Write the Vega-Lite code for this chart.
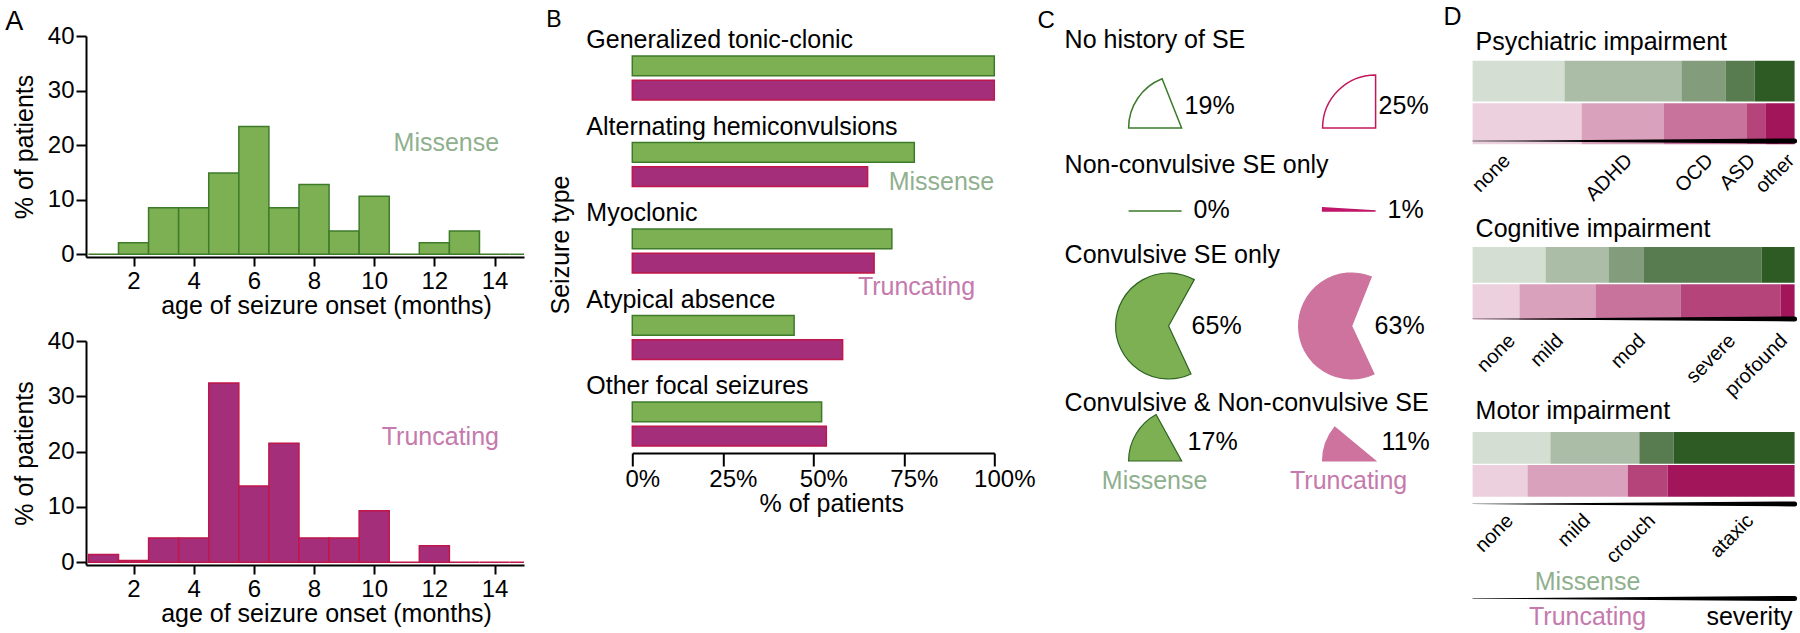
{
  "$schema": "https://vega.github.io/schema/vega-lite/v6.json",
  "padding": {"left": 5, "top": 5, "right": 0, "bottom": 0},
  "datasets": {
    "histM": [
      {"lo": 0.5, "hi": 1.5, "pct": 0},
      {"lo": 1.5, "hi": 2.5, "pct": 2.13},
      {"lo": 2.5, "hi": 3.5, "pct": 8.51},
      {"lo": 3.5, "hi": 4.5, "pct": 8.51},
      {"lo": 4.5, "hi": 5.5, "pct": 14.89},
      {"lo": 5.5, "hi": 6.5, "pct": 23.4},
      {"lo": 6.5, "hi": 7.5, "pct": 8.51},
      {"lo": 7.5, "hi": 8.5, "pct": 12.77},
      {"lo": 8.5, "hi": 9.5, "pct": 4.26},
      {"lo": 9.5, "hi": 10.5, "pct": 10.64},
      {"lo": 10.5, "hi": 11.5, "pct": 0},
      {"lo": 11.5, "hi": 12.5, "pct": 2.13},
      {"lo": 12.5, "hi": 13.5, "pct": 4.26},
      {"lo": 13.5, "hi": 14.5, "pct": 0},
      {"lo": 14.5, "hi": 15.5, "pct": 0}
    ],
    "histT": [
      {"lo": 0.5, "hi": 1.5, "pct": 1.4},
      {"lo": 1.5, "hi": 2.5, "pct": 0.3},
      {"lo": 2.5, "hi": 3.5, "pct": 4.4},
      {"lo": 3.5, "hi": 4.5, "pct": 4.4},
      {"lo": 4.5, "hi": 5.5, "pct": 32.4},
      {"lo": 5.5, "hi": 6.5, "pct": 13.8},
      {"lo": 6.5, "hi": 7.5, "pct": 21.5},
      {"lo": 7.5, "hi": 8.5, "pct": 4.4},
      {"lo": 8.5, "hi": 9.5, "pct": 4.4},
      {"lo": 9.5, "hi": 10.5, "pct": 9.3},
      {"lo": 10.5, "hi": 11.5, "pct": 0},
      {"lo": 11.5, "hi": 12.5, "pct": 3.0},
      {"lo": 12.5, "hi": 13.5, "pct": 0},
      {"lo": 13.5, "hi": 14.5, "pct": 0},
      {"lo": 14.5, "hi": 15.5, "pct": 0}
    ],
    "seizure": [
      {"type": "Generalized tonic-clonic", "genotype": "Missense", "pct": 100},
      {"type": "Generalized tonic-clonic", "genotype": "Truncating", "pct": 100},
      {"type": "Alternating hemiconvulsions", "genotype": "Missense", "pct": 77.9},
      {"type": "Alternating hemiconvulsions", "genotype": "Truncating", "pct": 65.0},
      {"type": "Myoclonic", "genotype": "Missense", "pct": 71.7},
      {"type": "Myoclonic", "genotype": "Truncating", "pct": 66.8},
      {"type": "Atypical absence", "genotype": "Missense", "pct": 44.7},
      {"type": "Atypical absence", "genotype": "Truncating", "pct": 58.1},
      {"type": "Other focal seizures", "genotype": "Missense", "pct": 52.3},
      {"type": "Other focal seizures", "genotype": "Truncating", "pct": 53.6}
    ],
    "se": [
      {"row": "No history of SE", "genotype": "Missense", "pct": 0.19},
      {"row": "No history of SE", "genotype": "Truncating", "pct": 0.25},
      {"row": "Non-convulsive SE only", "genotype": "Missense", "pct": 0},
      {"row": "Non-convulsive SE only", "genotype": "Truncating", "pct": 0.01},
      {"row": "Convulsive SE only", "genotype": "Missense", "pct": 0.65},
      {"row": "Convulsive SE only", "genotype": "Truncating", "pct": 0.63},
      {"row": "Convulsive & Non-convulsive SE", "genotype": "Missense", "pct": 0.17},
      {"row": "Convulsive & Non-convulsive SE", "genotype": "Truncating", "pct": 0.11}
    ],
    "psych": [
      {"genotype": "Missense", "level": "none", "sev": 1, "pct": 28.6},
      {"genotype": "Missense", "level": "ADHD", "sev": 2, "pct": 36.3},
      {"genotype": "Missense", "level": "OCD", "sev": 3, "pct": 13.7},
      {"genotype": "Missense", "level": "ASD", "sev": 4, "pct": 9.0},
      {"genotype": "Missense", "level": "other", "sev": 5, "pct": 12.4},
      {"genotype": "Truncating", "level": "none", "sev": 1, "pct": 33.9},
      {"genotype": "Truncating", "level": "ADHD", "sev": 2, "pct": 25.5},
      {"genotype": "Truncating", "level": "OCD", "sev": 3, "pct": 25.8},
      {"genotype": "Truncating", "level": "ASD", "sev": 4, "pct": 5.9},
      {"genotype": "Truncating", "level": "other", "sev": 5, "pct": 8.9}
    ],
    "cog": [
      {"genotype": "Missense", "level": "none", "sev": 1, "pct": 22.7},
      {"genotype": "Missense", "level": "mild", "sev": 2, "pct": 19.6},
      {"genotype": "Missense", "level": "mod", "sev": 3, "pct": 10.9},
      {"genotype": "Missense", "level": "severe", "sev": 4, "pct": 36.6},
      {"genotype": "Missense", "level": "profound", "sev": 5, "pct": 10.2},
      {"genotype": "Truncating", "level": "none", "sev": 1, "pct": 14.6},
      {"genotype": "Truncating", "level": "mild", "sev": 2, "pct": 23.6},
      {"genotype": "Truncating", "level": "mod", "sev": 3, "pct": 26.4},
      {"genotype": "Truncating", "level": "severe", "sev": 4, "pct": 31.1},
      {"genotype": "Truncating", "level": "profound", "sev": 5, "pct": 4.3}
    ],
    "motor": [
      {"genotype": "Missense", "level": "none", "sev": 1, "pct": 24.2},
      {"genotype": "Missense", "level": "mild", "sev": 2, "pct": 27.6},
      {"genotype": "Missense", "level": "crouch", "sev": 4, "pct": 10.6},
      {"genotype": "Missense", "level": "ataxic", "sev": 5, "pct": 37.6},
      {"genotype": "Truncating", "level": "none", "sev": 1, "pct": 17.1},
      {"genotype": "Truncating", "level": "mild", "sev": 2, "pct": 31.1},
      {"genotype": "Truncating", "level": "crouch", "sev": 4, "pct": 12.4},
      {"genotype": "Truncating", "level": "ataxic", "sev": 5, "pct": 39.4}
    ]
  },
  "resolve": {"scale": {"fill": "independent", "stroke": "independent", "color": "independent", "theta": "independent", "size": "independent", "opacity": "independent"}},
  "columns": 2,
  "align": "none",
  "spacing": 22.3,
  "concat": [
    {
      "vconcat": [
        {
          "width": 438, "height": 221,
          "layer": [
            {
              "data": {"name": "histM"},
              "mark": {"type": "bar", "fill": "#7cb053", "stroke": "#3d7b2b", "strokeWidth": 1.5, "clip": true},
              "encoding": {
                "x": {"field": "lo", "type": "quantitative", "scale": {"domain": [0.42, 14.98], "nice": false, "zero": false},
                      "axis": {"values": [2, 4, 6, 8, 10, 12, 14], "title": "age of seizure onset (months)", "tickSize": 9, "labelPadding": 3, "titlePadding": 0, "titleX": 240}},
                "x2": {"field": "hi"},
                "y": {"field": "pct", "type": "quantitative", "scale": {"domain": [-0.5, 40], "nice": false, "zero": false},
                      "axis": {"values": [0, 10, 20, 30, 40], "title": "% of patients", "tickSize": 10, "labelPadding": 2, "titlePadding": 10}},
                "y2": {"datum": 0}
              }
            },
            {
              "data": {"values": [{"genotype": "Missense"}]},
              "mark": {"type": "text", "fontSize": 25, "color": "#8fb08e", "align": "center", "baseline": "middle"},
              "encoding": {"x": {"datum": 12.4}, "y": {"datum": 20.3}, "text": {"field": "genotype"}}
            },
            {
              "data": {"values": [{"panel": "A"}]},
              "mark": {"type": "text", "fontSize": 27, "align": "left", "baseline": "top", "dx": -80.7, "dy": -27},
              "encoding": {"x": {"datum": 0.42}, "y": {"datum": 40}, "text": {"field": "panel"}}
            }
          ]
        },
        {
          "width": 438, "height": 224,
          "layer": [
            {
              "data": {"name": "histT"},
              "mark": {"type": "bar", "fill": "#a52e7a", "stroke": "#c0174a", "strokeWidth": 1.5, "clip": true},
              "encoding": {
                "x": {"field": "lo", "type": "quantitative", "scale": {"domain": [0.42, 14.98], "nice": false, "zero": false},
                      "axis": {"values": [2, 4, 6, 8, 10, 12, 14], "title": "age of seizure onset (months)", "tickSize": 9, "labelPadding": 3, "titlePadding": 0, "titleX": 240}},
                "x2": {"field": "hi"},
                "y": {"field": "pct", "type": "quantitative", "scale": {"domain": [-0.5, 40], "nice": false, "zero": false},
                      "axis": {"values": [0, 10, 20, 30, 40], "title": "% of patients", "tickSize": 10, "labelPadding": 2, "titlePadding": 10}},
                "y2": {"datum": 0}
              }
            },
            {
              "data": {"values": [{"genotype": "Truncating"}]},
              "mark": {"type": "text", "fontSize": 25, "color": "#c57aad", "align": "center", "baseline": "middle"},
              "encoding": {"x": {"datum": 12.2}, "y": {"datum": 22.7}, "text": {"field": "genotype"}}
            }
          ]
        }
      ],
      "spacing": 84,
      "bounds": "flush"
    },
    {
      "columns": 2,
      "align": "none",
      "spacing": 2.3,
      "resolve": {"scale": {"fill": "independent", "stroke": "independent", "color": "independent", "theta": "independent", "size": "independent", "opacity": "independent"}},
      "concat": [
        {
          "width": 362, "height": 417,
          "layer": [
            {
              "data": {"name": "seizure"},
              "mark": {"type": "bar", "strokeWidth": 1.5},
              "encoding": {
                "y": {"field": "type", "type": "nominal",
                      "scale": {"domain": ["Generalized tonic-clonic", "Alternating hemiconvulsions", "Myoclonic", "Atypical absence", "Other focal seizures"], "paddingInner": 0.491, "paddingOuter": 0.156, "align": 0.741},
                      "axis": {"labels": false, "ticks": false, "domain": false, "title": "Seizure type", "titlePadding": 59}},
                "yOffset": {"field": "genotype", "type": "nominal", "scale": {"domain": ["Missense", "Truncating"], "paddingInner": 0.18, "paddingOuter": 0}},
                "x": {"field": "pct", "type": "quantitative", "scale": {"domain": [0, 100], "nice": false},
                      "axis": {"values": [0, 25, 50, 75, 100], "labelExpr": "datum.value + '%'", "tickSize": 13, "labelPadding": 1, "labelOffset": 10, "title": "% of patients", "titlePadding": 0, "titleX": 199}},
                "fill": {"field": "genotype", "type": "nominal", "scale": {"domain": ["Missense", "Truncating"], "range": ["#7cb053", "#a52e7a"]}, "legend": null},
                "stroke": {"field": "genotype", "type": "nominal", "scale": {"domain": ["Missense", "Truncating"], "range": ["#3d7b2b", "#c0174a"]}, "legend": null}
              }
            },
            {
              "data": {"name": "seizure"},
              "transform": [{"filter": "datum.genotype === 'Missense'"}],
              "mark": {"type": "text", "align": "left", "baseline": "middle", "dx": -46, "dy": -38, "fontSize": 25},
              "encoding": {"y": {"field": "type", "type": "nominal"}, "x": {"datum": 0}, "text": {"field": "type"}}
            },
            {
              "data": {"values": [{"genotype": "Missense"}]},
              "mark": {"type": "text", "align": "center", "baseline": "middle", "dy": 17, "fontSize": 25, "color": "#8fb08e"},
              "encoding": {"x": {"datum": 85.4}, "y": {"datum": "Alternating hemiconvulsions"}, "text": {"field": "genotype"}}
            },
            {
              "data": {"values": [{"genotype": "Truncating"}]},
              "mark": {"type": "text", "align": "center", "baseline": "middle", "dy": 36.4, "fontSize": 25, "color": "#c57aad"},
              "encoding": {"x": {"datum": 78.5}, "y": {"datum": "Myoclonic"}, "text": {"field": "genotype"}}
            },
            {
              "data": {"values": [{"panel": "B"}]},
              "mark": {"type": "text", "fontSize": 23, "align": "left", "baseline": "top", "dx": -86, "dy": -69},
              "encoding": {"x": {"datum": 0}, "y": {"datum": "Generalized tonic-clonic"}, "text": {"field": "panel"}}
            }
          ]
        },
        {
          "columns": 2,
          "align": "none",
          "spacing": 12,
          "resolve": {"scale": {"fill": "independent", "stroke": "independent", "color": "independent", "theta": "independent", "size": "independent", "opacity": "independent"}},
          "concat": [
            {
              "spacing": 0,
              "bounds": "flush",
              "resolve": {"scale": {"x": "independent", "y": "independent", "fill": "independent", "stroke": "independent", "color": "independent", "theta": "independent"}},
              "vconcat": [
                {
                  "width": 367, "height": 132,
                  "layer": [
                    {
                      "data": {"name": "se"},
                      "transform": [{"filter": "datum.row === 'No history of SE'"}],
                      "mark": {"type": "arc", "radius": 53, "strokeWidth": 1.5},
                      "encoding": {
                        "x": {"field": "genotype", "type": "nominal", "scale": {"type": "point", "domain": ["Missense", "Truncating"], "padding": 0.4459, "align": 0.6763}, "axis": null},
                        "y": {"field": "row", "type": "nominal", "scale": {"type": "point", "domain": ["No history of SE"], "align": 0.697}, "axis": null},
                        "theta": {"field": "pct", "type": "quantitative", "stack": null, "scale": {"domain": [0, 1], "range": [4.7124, 10.9956]}},
                        "fill": {"field": "genotype", "type": "nominal", "scale": {"domain": ["Missense", "Truncating"], "range": ["#ffffff", "#ffffff"]}, "legend": null},
                        "stroke": {"field": "genotype", "type": "nominal", "scale": {"domain": ["Missense", "Truncating"], "range": ["#3d7b2b", "#c2185b"]}, "legend": null}
                      }
                    },
                    {
                      "data": {"name": "se"},
                      "transform": [{"filter": "datum.row === 'No history of SE'"}],
                      "mark": {"type": "text", "align": "left", "baseline": "middle", "dx": 3, "dy": -21.6, "fontSize": 25},
                      "encoding": {"x": {"field": "genotype", "type": "nominal"}, "y": {"field": "row", "type": "nominal"}, "text": {"field": "pct", "type": "quantitative", "format": ".0%"}}
                    },
                    {
                      "data": {"name": "se"},
                      "transform": [{"filter": "datum.row === 'No history of SE' && datum.genotype === 'Missense'"}],
                      "mark": {"type": "text", "align": "left", "baseline": "middle", "dx": -117, "dy": -87.9, "fontSize": 25},
                      "encoding": {"x": {"field": "genotype", "type": "nominal"}, "y": {"field": "row", "type": "nominal"}, "text": {"field": "row"}}
                    },
                    {
                      "data": {"values": [{"panel": "C"}]},
                      "mark": {"type": "text", "fontSize": 24, "align": "left", "baseline": "top", "dx": -144, "dy": -119},
                      "encoding": {"x": {"datum": "Missense"}, "y": {"datum": "No history of SE"}, "text": {"field": "panel"}}
                    }
                  ]
                },
                {
                  "width": 367, "height": 86,
                  "layer": [
                    {
                      "data": {"name": "se"},
                      "transform": [{"filter": "datum.row === 'Non-convulsive SE only'"}],
                      "mark": {"type": "arc", "radius": 53, "strokeWidth": 1.5},
                      "encoding": {
                        "x": {"field": "genotype", "type": "nominal", "scale": {"type": "point", "domain": ["Missense", "Truncating"], "padding": 0.4459, "align": 0.6763}, "axis": null},
                        "theta": {"field": "pct", "type": "quantitative", "stack": null, "scale": {"domain": [0, 1], "range": [4.7124, 10.9956]}},
                        "fill": {"field": "genotype", "type": "nominal", "scale": {"domain": ["Missense", "Truncating"], "range": ["#3d7b2b", "#c0166a"]}, "legend": null},
                        "stroke": {"field": "genotype", "type": "nominal", "scale": {"domain": ["Missense", "Truncating"], "range": ["#3d7b2b", "#c0166a"]}, "legend": null}
                      }
                    },
                    {
                      "data": {"name": "se"},
                      "transform": [{"filter": "datum.row === 'Non-convulsive SE only'"}],
                      "mark": {"type": "text", "align": "left", "baseline": "middle", "dx": 12, "dy": -0.6, "fontSize": 25},
                      "encoding": {"x": {"field": "genotype", "type": "nominal"}, "text": {"field": "pct", "type": "quantitative", "format": ".0%"}}
                    },
                    {
                      "data": {"name": "se"},
                      "transform": [{"filter": "datum.row === 'Non-convulsive SE only' && datum.genotype === 'Missense'"}],
                      "mark": {"type": "text", "align": "left", "baseline": "middle", "dx": -117, "dy": -45.9, "fontSize": 25},
                      "encoding": {"x": {"field": "genotype", "type": "nominal"}, "text": {"field": "row"}}
                    }
                  ]
                },
                {
                  "width": 367, "height": 144,
                  "layer": [
                    {
                      "data": {"name": "se"},
                      "transform": [{"filter": "datum.row === 'Convulsive SE only'"}],
                      "mark": {"type": "arc", "radius": 53, "strokeWidth": 1.2},
                      "encoding": {
                        "x": {"field": "genotype", "type": "nominal", "scale": {"type": "point", "domain": ["Missense", "Truncating"], "padding": 0.5027, "align": 0.5652}, "axis": null},
                        "theta": {"field": "pct", "type": "quantitative", "stack": null, "scale": {"domain": [0, 1], "range": [2.7053, 8.9885]}},
                        "fill": {"field": "genotype", "type": "nominal", "scale": {"domain": ["Missense", "Truncating"], "range": ["#7cb053", "#cd739e"]}, "legend": null},
                        "stroke": {"field": "genotype", "type": "nominal", "scale": {"domain": ["Missense", "Truncating"], "range": ["#2f6422", "#cd739e"]}, "legend": null}
                      }
                    },
                    {
                      "data": {"name": "se"},
                      "transform": [{"filter": "datum.row === 'Convulsive SE only'"}],
                      "mark": {"type": "text", "align": "left", "baseline": "middle", "dx": 23, "dy": 0.4, "fontSize": 25},
                      "encoding": {"x": {"field": "genotype", "type": "nominal"}, "text": {"field": "pct", "type": "quantitative", "format": ".0%"}}
                    },
                    {
                      "data": {"name": "se"},
                      "transform": [{"filter": "datum.row === 'Convulsive SE only' && datum.genotype === 'Missense'"}],
                      "mark": {"type": "text", "align": "left", "baseline": "middle", "dx": -104, "dy": -70.9, "fontSize": 25},
                      "encoding": {"x": {"field": "genotype", "type": "nominal"}, "text": {"field": "row"}}
                    }
                  ]
                },
                {
                  "width": 367, "height": 126,
                  "layer": [
                    {
                      "data": {"name": "se"},
                      "transform": [{"filter": "datum.row === 'Convulsive & Non-convulsive SE'"}],
                      "mark": {"type": "arc", "radius": 53, "strokeWidth": 1.2},
                      "encoding": {
                        "x": {"field": "genotype", "type": "nominal", "scale": {"type": "point", "domain": ["Missense", "Truncating"], "padding": 0.4459, "align": 0.6763}, "axis": null},
                        "theta": {"field": "pct", "type": "quantitative", "stack": null, "scale": {"domain": [0, 1], "range": [4.7124, 10.9956]}},
                        "fill": {"field": "genotype", "type": "nominal", "scale": {"domain": ["Missense", "Truncating"], "range": ["#7cb053", "#cd739e"]}, "legend": null},
                        "stroke": {"field": "genotype", "type": "nominal", "scale": {"domain": ["Missense", "Truncating"], "range": ["#2f6422", "#cd739e"]}, "legend": null}
                      }
                    },
                    {
                      "data": {"name": "se"},
                      "transform": [{"filter": "datum.row === 'Convulsive & Non-convulsive SE'"}],
                      "mark": {"type": "text", "align": "left", "baseline": "middle", "dx": 6, "dy": -18.6, "fontSize": 25},
                      "encoding": {"x": {"field": "genotype", "type": "nominal"}, "text": {"field": "pct", "type": "quantitative", "format": ".0%"}}
                    },
                    {
                      "data": {"name": "se"},
                      "transform": [{"filter": "datum.row === 'Convulsive & Non-convulsive SE' && datum.genotype === 'Missense'"}],
                      "mark": {"type": "text", "align": "left", "baseline": "middle", "dx": -117, "dy": -57.6, "fontSize": 25},
                      "encoding": {"x": {"field": "genotype", "type": "nominal"}, "text": {"field": "row"}}
                    },
                    {
                      "data": {"name": "se"},
                      "transform": [{"filter": "datum.row === 'Convulsive & Non-convulsive SE'"}],
                      "mark": {"type": "text", "align": "center", "baseline": "middle", "dx": -27, "dy": 20.4, "fontSize": 25},
                      "encoding": {
                        "x": {"field": "genotype", "type": "nominal"},
                        "text": {"field": "genotype"},
                        "color": {"field": "genotype", "type": "nominal", "scale": {"domain": ["Missense", "Truncating"], "range": ["#8fb08e", "#c57aad"]}, "legend": null}
                      }
                    }
                  ]
                }
              ]
            },
            {
              "spacing": 0,
              "bounds": "flush",
              "resolve": {"scale": {"x": "independent", "y": "independent", "color": "independent", "opacity": "independent", "size": "independent"}},
              "vconcat": [
                {
                  "width": 322, "height": 211,
                  "resolve": {"scale": {"y": "independent"}},
                  "layer": [
                    {
                      "data": {"name": "psych"},
                      "mark": {"type": "bar"},
                      "encoding": {
                        "x": {"field": "pct", "type": "quantitative", "stack": "zero", "scale": {"domain": [0, 100], "nice": false},
                              "axis": {"values": [8.4, 46.3, 71.4, 84.5, 96.6], "labelExpr": "datum.value < 20 ? 'none' : datum.value < 60 ? 'ADHD' : datum.value < 80 ? 'OCD' : datum.value < 90 ? 'ASD' : 'other'", "labelAngle": -45, "ticks": false, "domain": false, "labelPadding": 2, "offset": -99, "title": null, "labelFontSize": 20}},
                        "y": {"field": "genotype", "type": "nominal", "scale": {"type": "band", "domain": ["Missense", "Truncating", "severity"], "paddingInner": 0.04, "paddingOuter": 1.717, "align": 0.2912}, "axis": null},
                        "color": {"field": "genotype", "type": "nominal", "scale": {"domain": ["Missense", "Truncating"], "range": ["#2e5a24", "#a2155a"]}, "legend": null},
                        "opacity": {"field": "sev", "type": "quantitative", "scale": {"domain": [1, 5], "range": [0.2, 1]}, "legend": null},
                        "order": {"field": "sev", "type": "quantitative"}
                      }
                    },
                    {
                      "data": {"values": [{"row": "severity", "pos": 0}, {"row": "severity", "pos": 100}]},
                      "mark": {"type": "trail", "color": "#000"},
                      "encoding": {
                        "x": {"field": "pos", "type": "quantitative"},
                        "y": {"field": "row", "type": "nominal", "scale": {"type": "point", "domain": ["severity"], "align": 0.4976}, "axis": null},
                        "size": {"field": "pos", "type": "quantitative", "scale": {"domain": [0, 100], "range": [0.3, 5]}, "legend": null}
                      }
                    },
                    {
                      "data": {"values": [{"title": "Psychiatric impairment"}]},
                      "mark": {"type": "text", "align": "left", "baseline": "middle", "dx": 3, "dy": -39.5, "fontSize": 25},
                      "encoding": {"x": {"datum": 0}, "y": {"datum": "Missense", "scale": {"type": "band", "domain": ["Missense", "Truncating", "severity"], "paddingInner": 0.04, "paddingOuter": 1.717, "align": 0.2912}, "axis": null}, "text": {"field": "title"}}
                    },
                    {
                      "data": {"values": [{"panel": "D"}]},
                      "mark": {"type": "text", "fontSize": 25, "align": "left", "baseline": "top", "dx": -29, "dy": -75.9},
                      "encoding": {"x": {"datum": 0}, "y": {"datum": "Missense", "scale": {"type": "band", "domain": ["Missense", "Truncating", "severity"], "paddingInner": 0.04, "paddingOuter": 1.717, "align": 0.2912}, "axis": null}, "text": {"field": "panel"}}
                    }
                  ]
                },
                {
                  "width": 322, "height": 185,
                  "resolve": {"scale": {"y": "independent"}},
                  "layer": [
                    {
                      "data": {"name": "cog"},
                      "mark": {"type": "bar"},
                      "encoding": {
                        "x": {"field": "pct", "type": "quantitative", "stack": "zero", "scale": {"domain": [0, 100], "nice": false},
                              "axis": {"values": [9.9, 24.8, 50.3, 78.3, 94.4], "labelExpr": "datum.value < 15 ? 'none' : datum.value < 35 ? 'mild' : datum.value < 65 ? 'mod' : datum.value < 85 ? 'severe' : 'profound'", "labelAngle": -45, "ticks": false, "domain": false, "labelPadding": 2, "offset": -104, "title": null, "labelFontSize": 20}},
                        "y": {"field": "genotype", "type": "nominal", "scale": {"type": "band", "domain": ["Missense", "Truncating", "severity"], "paddingInner": 0.04, "paddingOuter": 1.366, "align": 0}, "axis": null},
                        "color": {"field": "genotype", "type": "nominal", "scale": {"domain": ["Missense", "Truncating"], "range": ["#2e5a24", "#a2155a"]}, "legend": null},
                        "opacity": {"field": "sev", "type": "quantitative", "scale": {"domain": [1, 5], "range": [0.2, 1]}, "legend": null},
                        "order": {"field": "sev", "type": "quantitative"}
                      }
                    },
                    {
                      "data": {"values": [{"row": "severity", "pos": 0}, {"row": "severity", "pos": 100}]},
                      "mark": {"type": "trail", "color": "#000"},
                      "encoding": {
                        "x": {"field": "pos", "type": "quantitative"},
                        "y": {"field": "row", "type": "nominal", "scale": {"type": "point", "domain": ["severity"], "align": 0.389}, "axis": null},
                        "size": {"field": "pos", "type": "quantitative", "scale": {"domain": [0, 100], "range": [0.3, 5]}, "legend": null}
                      }
                    },
                    {
                      "data": {"values": [{"title": "Cognitive impairment"}]},
                      "mark": {"type": "text", "align": "left", "baseline": "middle", "dx": 3, "dy": -35.6, "fontSize": 25},
                      "encoding": {"x": {"datum": 0}, "y": {"datum": "Missense", "scale": {"type": "band", "domain": ["Missense", "Truncating", "severity"], "paddingInner": 0.04, "paddingOuter": 1.366, "align": 0}, "axis": null}, "text": {"field": "title"}}
                    }
                  ]
                },
                {
                  "width": 322, "height": 132,
                  "resolve": {"scale": {"y": "independent"}},
                  "layer": [
                    {
                      "data": {"name": "motor"},
                      "mark": {"type": "bar"},
                      "encoding": {
                        "x": {"field": "pct", "type": "quantitative", "stack": "zero", "scale": {"domain": [0, 100], "nice": false},
                              "axis": {"values": [9.3, 33.2, 53.4, 83.9], "labelExpr": "datum.value < 20 ? 'none' : datum.value < 45 ? 'mild' : datum.value < 70 ? 'crouch' : 'ataxic'", "labelAngle": -45, "ticks": false, "domain": false, "labelPadding": 2, "offset": -56, "title": null, "labelFontSize": 20}},
                        "y": {"field": "genotype", "type": "nominal", "scale": {"type": "band", "domain": ["Missense", "Truncating", "severity"], "paddingInner": 0.04, "paddingOuter": 0.52, "align": 0}, "axis": null},
                        "color": {"field": "genotype", "type": "nominal", "scale": {"domain": ["Missense", "Truncating"], "range": ["#2e5a24", "#a2155a"]}, "legend": null},
                        "opacity": {"field": "sev", "type": "quantitative", "scale": {"domain": [1, 5], "range": [0.2, 1]}, "legend": null},
                        "order": {"field": "sev", "type": "quantitative"}
                      }
                    },
                    {
                      "data": {"values": [{"row": "severity", "pos": 0}, {"row": "severity", "pos": 100}]},
                      "mark": {"type": "trail", "color": "#000"},
                      "encoding": {
                        "x": {"field": "pos", "type": "quantitative"},
                        "y": {"field": "row", "type": "nominal", "scale": {"type": "point", "domain": ["severity"], "align": 0.545}, "axis": null},
                        "size": {"field": "pos", "type": "quantitative", "scale": {"domain": [0, 100], "range": [0.3, 5]}, "legend": null}
                      }
                    },
                    {
                      "data": {"values": [{"title": "Motor impairment"}]},
                      "mark": {"type": "text", "align": "left", "baseline": "middle", "dx": 3, "dy": -36.8, "fontSize": 25},
                      "encoding": {"x": {"datum": 0}, "y": {"datum": "Missense", "scale": {"type": "band", "domain": ["Missense", "Truncating", "severity"], "paddingInner": 0.04, "paddingOuter": 0.52, "align": 0}, "axis": null}, "text": {"field": "title"}}
                    }
                  ]
                },
                {
                  "width": 322, "height": 69,
                  "layer": [
                    {
                      "data": {"values": [{"genotype": "Missense"}, {"genotype": "Truncating"}]},
                      "mark": {"type": "text", "align": "center", "baseline": "middle", "dy": 1.4, "fontSize": 25},
                      "encoding": {
                        "x": {"datum": 35.7, "scale": {"domain": [0, 100], "nice": false}, "axis": null},
                        "y": {"field": "genotype", "type": "nominal", "scale": {"type": "band", "domain": ["Missense", "wedge", "Truncating"], "paddingInner": 0, "paddingOuter": 0.47}, "axis": null},
                        "text": {"field": "genotype"},
                        "color": {"field": "genotype", "type": "nominal", "scale": {"domain": ["Missense", "Truncating"], "range": ["#8fb08e", "#c57aad"]}, "legend": null}
                      }
                    },
                    {
                      "data": {"values": [{"label": "severity"}]},
                      "mark": {"type": "text", "align": "right", "baseline": "middle", "dx": -2, "dy": 1.4, "fontSize": 25, "color": "#000"},
                      "encoding": {"x": {"datum": 100}, "y": {"datum": "Truncating"}, "text": {"field": "label"}}
                    },
                    {
                      "data": {"values": [{"row": "wedge", "pos": 0}, {"row": "wedge", "pos": 100}]},
                      "mark": {"type": "trail", "color": "#000"},
                      "encoding": {
                        "x": {"field": "pos", "type": "quantitative"},
                        "y": {"field": "row", "type": "nominal"},
                        "size": {"field": "pos", "type": "quantitative", "scale": {"domain": [0, 100], "range": [0.3, 5]}, "legend": null}
                      }
                    }
                  ]
                }
              ]
            }
          ]
        }
      ]
    }
  ],
  "config": {
    "font": "Liberation Sans",
    "view": {"stroke": null},
    "axis": {"labelFontSize": 24, "titleFontSize": 25, "titleFontWeight": "normal", "labelColor": "#000", "titleColor": "#000", "domainColor": "#000", "tickColor": "#000", "domainWidth": 2, "tickWidth": 2, "grid": false, "labelFont": "Liberation Sans", "titleFont": "Liberation Sans", "labelFlush": false, "labelOverlap": false},
    "text": {"font": "Liberation Sans", "fontSize": 24, "color": "#000"}
  }
}
